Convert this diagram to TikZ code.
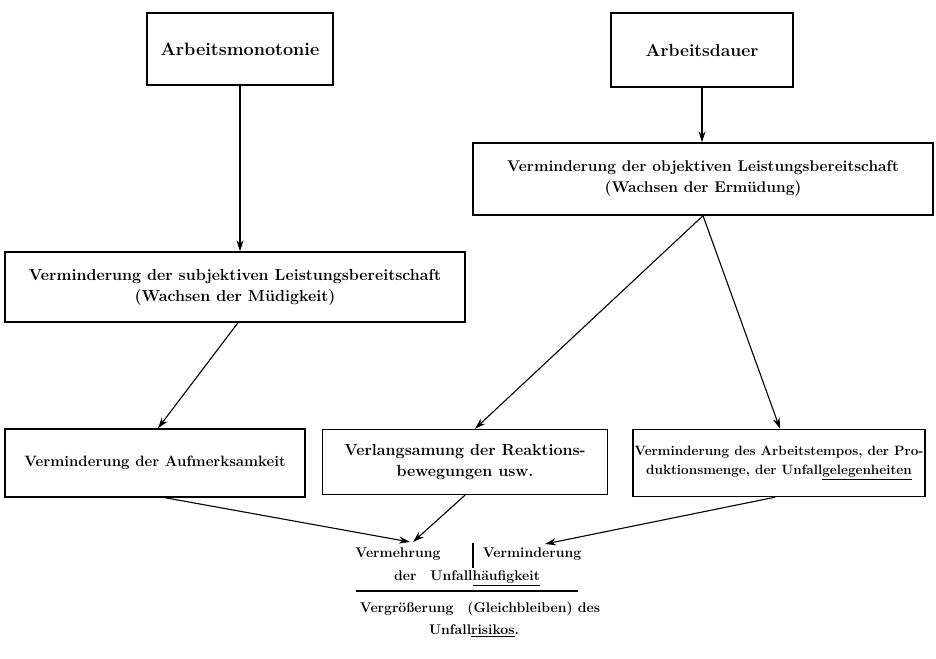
\documentclass[tikz,border=0pt]{standalone}
\usetikzlibrary{arrows.meta}
\begin{document}
\begin{tikzpicture}[x=1pt,y=-1pt,
  box/.style={draw, line width=1.4pt, inner sep=0pt, align=center},
  txt/.style={font=\bfseries\fontsize{14}{18}\selectfont},
  arr/.style={line width=1.1pt, -{Stealth[length=11pt,width=7pt]}}]
\useasboundingbox (0,0) rectangle (936,658);
\node[box, minimum width=186pt, minimum height=72pt] (A) at (240,49) {};
\node[font=\bfseries\fontsize{18}{22}\selectfont] at (A) {Arbeitsmonotonie};
\node[box, minimum width=182pt, minimum height=74pt] (B) at (702,50) {};
\node[font=\bfseries\fontsize{17.5}{21}\selectfont] at (B) {Arbeitsdauer};
\node[box, minimum width=460pt, minimum height=72pt, font=\bfseries\fontsize{15.5}{21}\selectfont] (obj) at (703,179)
  {Verminderung der objektiven Leistungsbereitschaft\\(Wachsen der Ermüdung)};
\node[box, minimum width=460pt, minimum height=70pt, font=\bfseries\fontsize{16}{21}\selectfont] (subj) at (235,287)
  {Verminderung der subjektiven Leistungsbereitschaft\\(Wachsen der Müdigkeit)};
\node[box, minimum width=300pt, minimum height=68pt] (auf) at (155,463) {};
\node[font=\bfseries\fontsize{15}{19}\selectfont] at (auf) {Verminderung der Aufmerksamkeit};
\node[box, minimum width=285pt, minimum height=65pt, font=\bfseries\fontsize{16}{21}\selectfont] (ver) at (465,462)
  {Verlangsamung der Reaktions-\\bewegungen usw.};
\node[box, minimum width=292pt, minimum height=67pt, font=\bfseries\fontsize{13.5}{19}\selectfont] (tem) at (779,463)
  {Verminderung des Arbeitstempos, der Pro-\\duktionsmenge, der Unfall\underline{gelegenheiten}};
% bottom text
\node[txt] (vm) at (398,554) {Vermehrung};
\node[txt] (vd) at (532,554) {Verminderung};
\node[txt] (uh) at (467,578) {der\quad Unfall\underline{häufigkeit}};
\node[txt] (vg) at (480,609) {Vergrößerung\quad (Gleichbleiben) des};
\node[txt] (ur) at (474,631) {Unfall\underline{risikos}.};
\coordinate (barT) at (473,543);
\coordinate (barB) at (473,568);
\draw[line width=1.1pt] (barT) -- (barB);
\coordinate (hl) at (356,591);
\coordinate (hr) at (578,591);
\draw[line width=1.1pt] (hl) -- (hr);
\coordinate (e1) at (410,542);
\coordinate (e2) at (413,542);
\coordinate (e3) at (545,544);
% arrows
\draw[arr] (A.south) -- (A.south |- subj.north);
\draw[arr] (B.south) -- (B.south |- obj.north);
\draw[arr] ([xshift=3pt]subj.south) -- ([xshift=3pt]auf.north);
\draw[arr] (obj.south) -- ([xshift=10pt]ver.north);
\draw[arr] (obj.south) -- ([xshift=1pt]tem.north);
\draw[arr] ([xshift=10pt]auf.south) -- (e1);
\draw[arr] (ver.south) -- (e2);
\draw[arr] ([xshift=-4pt]tem.south) -- (e3);
\end{tikzpicture}
\end{document}
